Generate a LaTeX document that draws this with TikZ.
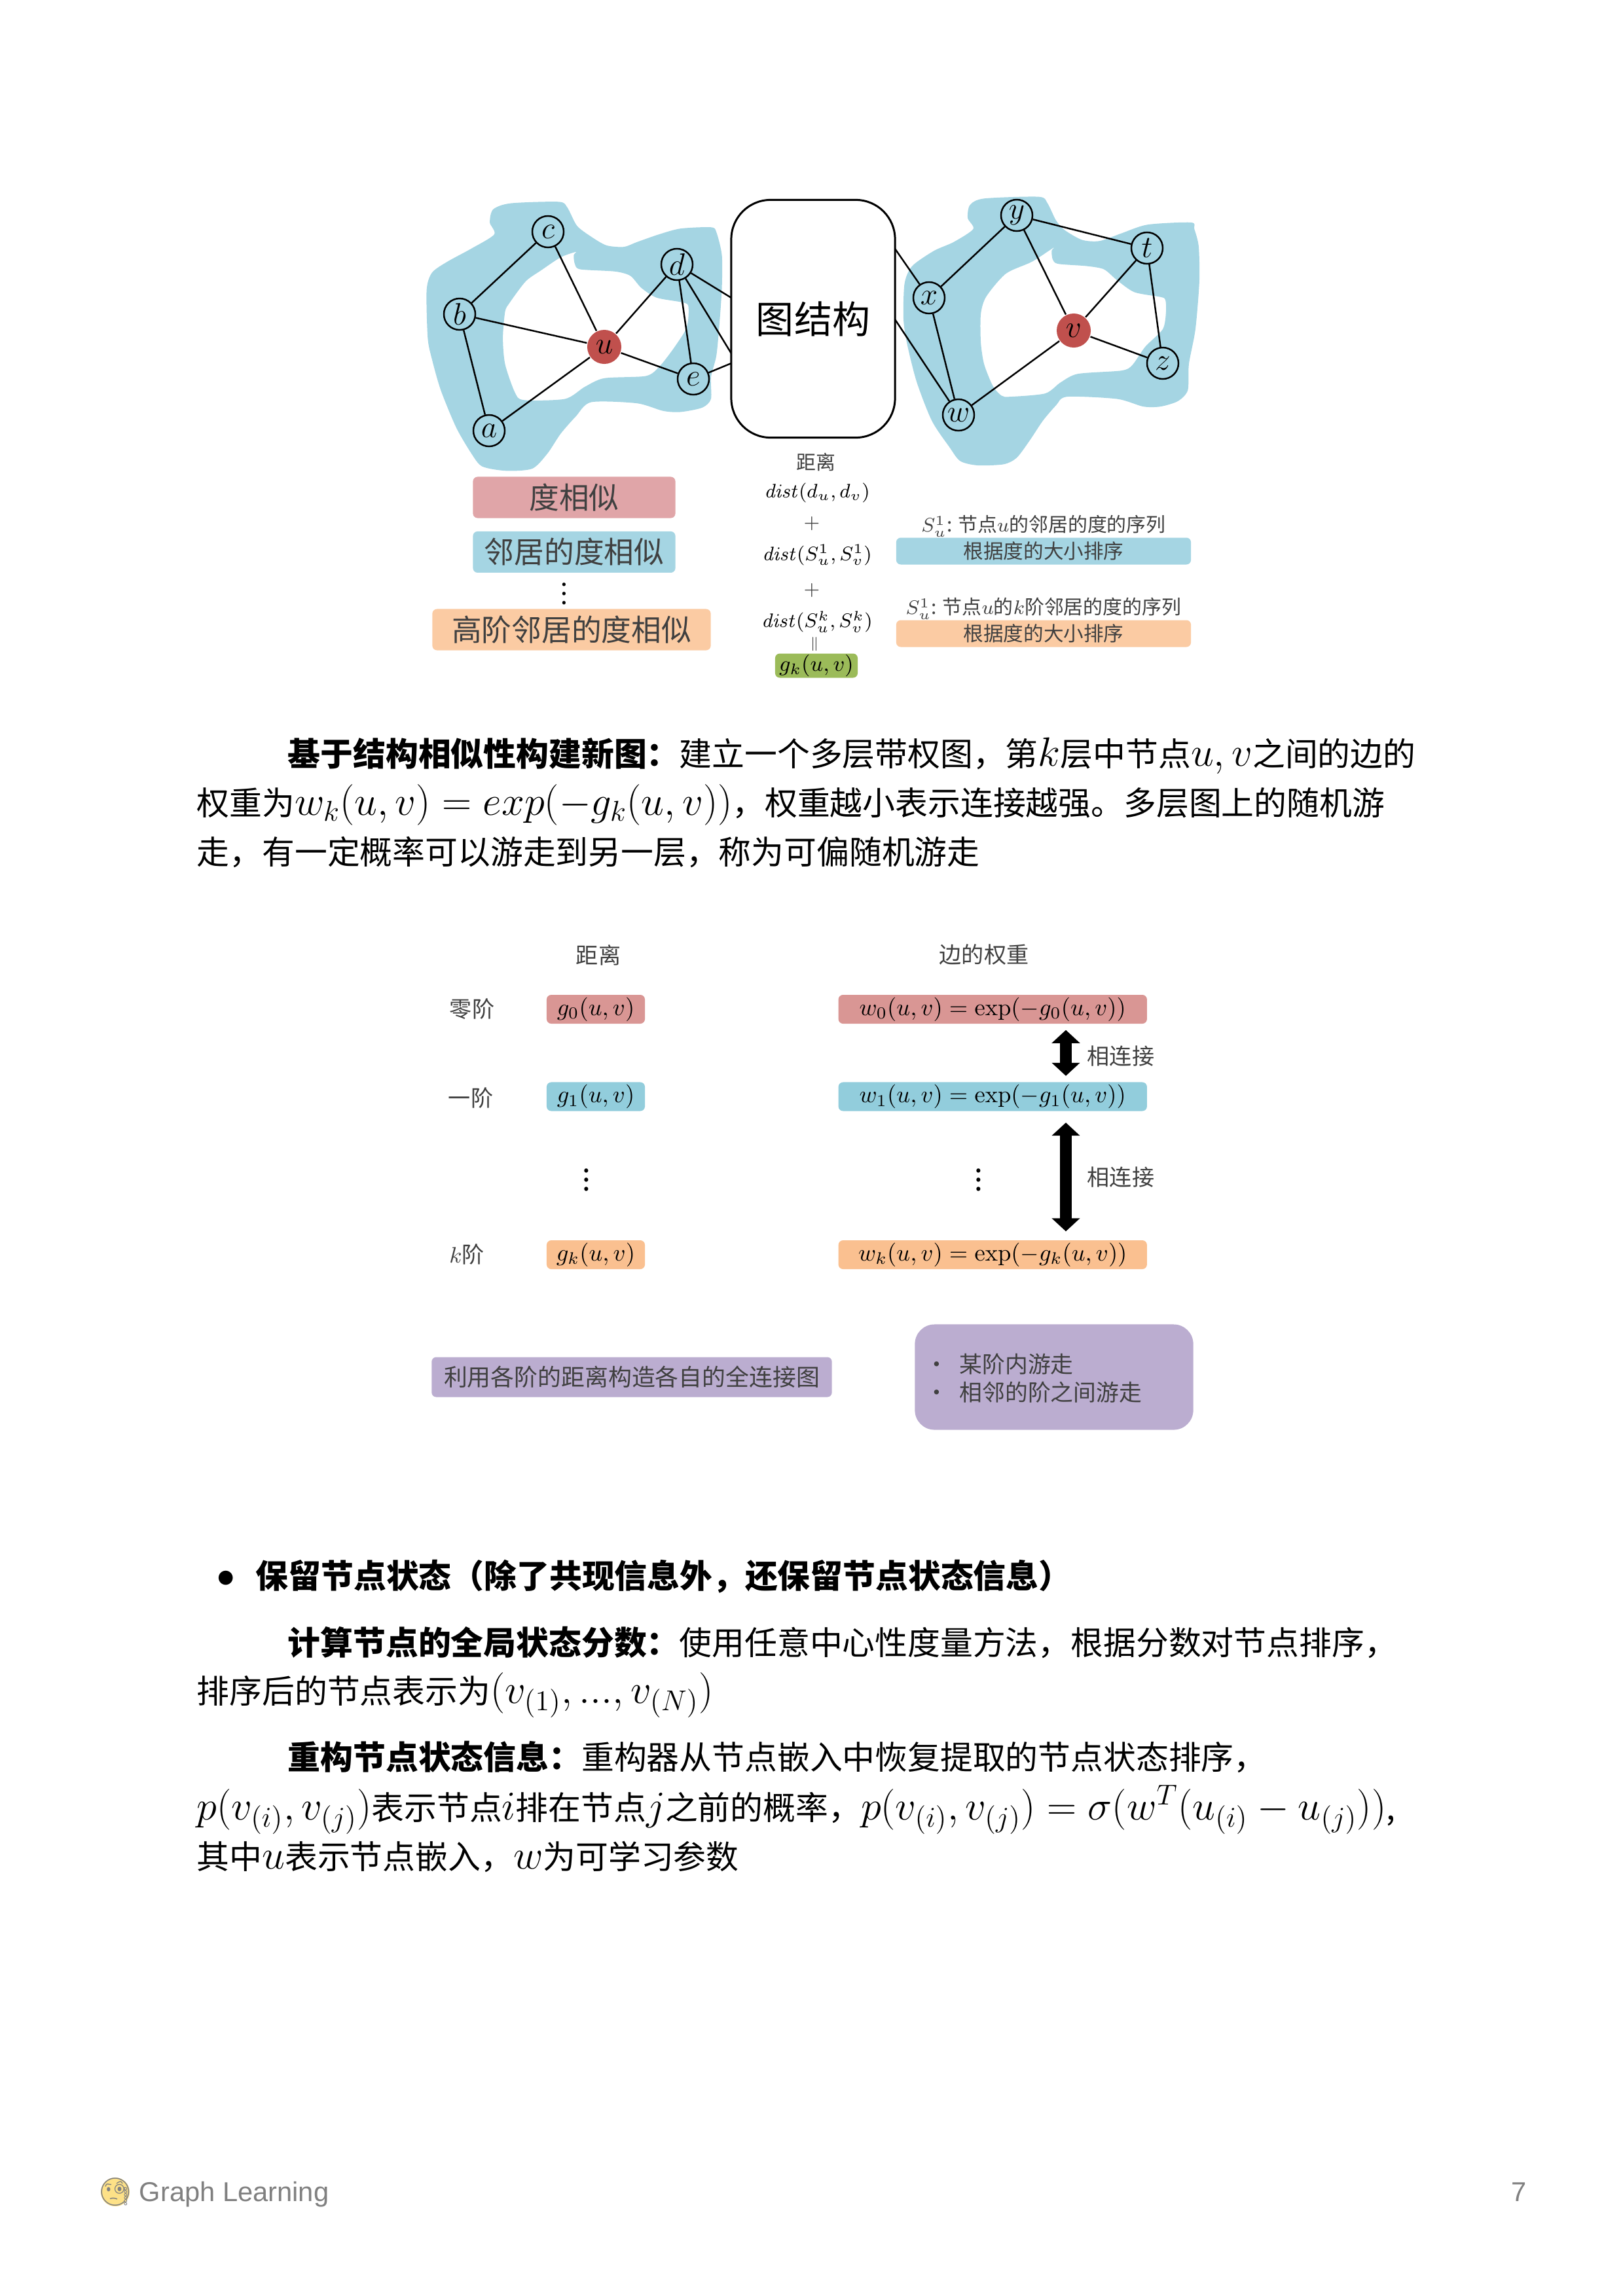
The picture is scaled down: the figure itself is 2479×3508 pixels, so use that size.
\documentclass[tikz,border=0pt]{standalone}
\usepackage{fix-cm}
\usepackage{amsmath,amssymb}
\usepackage[no-math]{fontspec}
\setmainfont{Noto Sans CJK SC}
\newfontfamily\footfont{Liberation Sans}
\newfontfamily\emojifont{Noto Emoji}
\usetikzlibrary{arrows.meta,shapes,positioning,calc}

\definecolor{blobblue}{HTML}{A5D5E3}
\definecolor{tagpink}{HTML}{E0A5A8}
\definecolor{tagblue}{HTML}{A5D5E3}
\definecolor{tagorange}{HTML}{FBCBA3}
\definecolor{taggreen}{HTML}{9BBB59}
\definecolor{rowpink}{HTML}{D99694}
\definecolor{rowblue}{HTML}{92CDDC}
\definecolor{roworange}{HTML}{FAC090}
\definecolor{tagpurple}{HTML}{BBADD0}
\definecolor{nodered}{HTML}{C0504D}
\definecolor{labelgray}{HTML}{404040}

% formulas in the running text are set larger than the Chinese
\newcommand{\mth}[1]{{\fontsize{17.8}{17.8}\selectfont$#1$}}

\begin{document}
\begin{tikzpicture}[
    x=0.01cm,y=-0.01cm,
    gnode/.style={circle,draw,line width=0.7pt,inner sep=0pt,minimum size=0.48cm,font=\fontsize{13.5}{15}\selectfont},
    rednode/.style={gnode,draw=none,fill=nodered,minimum size=0.52cm},
    edge/.style={line width=0.7pt},
    tag/.style={rectangle,rounded corners=2pt,inner sep=0pt,align=center,text=labelgray},
    bigtag/.style={tag,minimum width=3.09cm,minimum height=0.63cm,font=\fontsize{13}{15}\selectfont},
    bartag/.style={tag,minimum width=4.50cm,minimum height=0.41cm,font=\fontsize{8.7}{10}\selectfont},
    rowg/.style={tag,text=black,minimum width=1.50cm,minimum height=0.44cm,font=\fontsize{10.4}{13}\selectfont},
    roww/.style={tag,text=black,minimum width=4.71cm,minimum height=0.44cm,font=\fontsize{10.4}{13}\selectfont},
    txt/.style={inner sep=0pt,text=labelgray,font=\fontsize{9.7}{12}\selectfont},
    small/.style={inner sep=0pt,text=labelgray,font=\fontsize{8.5}{10}\selectfont},
    bodyline/.style={anchor=base west,inner sep=0pt,font=\fontsize{14.17}{17}\selectfont},
    dblarrow/.style={line width=0.18cm,{Triangle[length=0.2cm,width=0.42cm]}-{Triangle[length=0.2cm,width=0.42cm]}}
]
    \useasboundingbox (0,0) rectangle (2479,3508);

    % blue areas behind the two graphs
    \begin{scope}[shift={(640,290)},x=0.003333cm,y=-0.003333cm]
        \fill[blobblue,even odd rule]
            plot[smooth cycle,tension=0.45] coordinates {(340,90)(420,62)(640,55)(680,80)(725,165)(790,215)(860,255)(940,262)(1000,240)(1100,205)(1200,178)(1340,172)(1365,195)(1390,300)(1390,450)(1380,600)(1365,760)(1340,860)(1340,960)(1300,1000)(1200,1020)(1120,1015)(1000,980)(790,975)(720,1040)(650,1120)(590,1210)(520,1280)(400,1290)(290,1270)(240,1210)(170,1090)(100,920)(60,780)(40,680)(35,460)(60,380)(130,330)(240,270)(345,205)(325,150)}
            plot[smooth cycle,tension=0.45] coordinates {(720,285)(650,310)(560,370)(490,420)(415,520)(395,560)(385,680)(395,800)(440,930)(480,965)(670,960)(760,905)(850,865)(1040,855)(1100,815)(1160,740)(1220,650)(1235,600)(1235,530)(1200,515)(1090,495)(1020,450)(970,395)(900,375)(740,365)(715,340)(710,300)};
    \end{scope}
    \begin{scope}[shift={(1360,290)},x=0.003333cm,y=-0.003333cm]
        \fill[blobblue,even odd rule]
            plot[smooth cycle,tension=0.45] coordinates {(365,70)(430,40)(680,32)(720,60)(760,140)(800,185)(880,230)(960,235)(1060,200)(1180,160)(1380,150)(1395,180)(1415,260)(1418,420)(1400,640)(1370,800)(1365,920)(1320,970)(1240,995)(1160,995)(1040,960)(810,950)(760,990)(700,1060)(640,1150)(580,1230)(520,1260)(400,1265)(320,1245)(270,1180)(190,1060)(120,880)(75,700)(60,590)(65,430)(100,350)(200,280)(290,240)(380,180)(355,130)}
            plot[smooth cycle,tension=0.45] coordinates {(750,265)(650,330)(530,385)(440,490)(415,570)(415,700)(430,800)(470,900)(510,945)(550,950)(710,935)(780,885)(860,845)(1060,830)(1110,805)(1170,720)(1250,640)(1265,560)(1262,505)(1240,492)(1120,470)(1040,415)(980,365)(900,350)(770,340)(745,320)(740,280)};
    \end{scope}

    % the two graphs and the box between them
    \node[gnode] (c) at (837,354) {$c$};
    \node[gnode] (b) at (702,480) {$b$};
    \node[gnode] (a) at (747,658) {$a$};
    \node[rednode] (u) at (923,530) {$u$};
    \node[gnode] (d) at (1034,404) {$d$};
    \node[gnode] (e) at (1059,579) {$e$};
    \node[gnode] (y) at (1553,329) {$y$};
    \node[gnode] (x) at (1419,455) {$x$};
    \node[gnode] (w) at (1464,634) {$w$};
    \node[rednode] (v) at (1640,505) {$v$};
    \node[gnode] (t) at (1752,379) {$t$};
    \node[gnode] (z) at (1776,555) {$z$};
    \node[draw,line width=0.85pt,rounded corners=0.6cm,minimum width=2.50cm,minimum height=3.63cm,inner sep=0pt,font=\fontsize{16.5}{19}\selectfont] (graphbox) at (1242,487) {图结构};
    \coordinate (boxd) at (1117,455);
    \coordinate (boxdd) at (1117,540);
    \coordinate (boxe) at (1117,555);
    \coordinate (boxx) at (1367,380);
    \coordinate (boxw) at (1367,488);

    \draw[edge] (a) -- (b);
    \draw[edge] (b) -- (c);
    \draw[edge] (b) -- (u);
    \draw[edge] (c) -- (u);
    \draw[edge] (a) -- (u);
    \draw[edge] (d) -- (u);
    \draw[edge] (u) -- (e);
    \draw[edge] (d) -- (e);
    \draw[edge] (d) -- (boxd);
    \draw[edge] (d) -- (boxdd);
    \draw[edge] (e) -- (boxe);
    \draw[edge] (x) -- (y);
    \draw[edge] (x) -- (w);
    \draw[edge] (y) -- (v);
    \draw[edge] (y) -- (t);
    \draw[edge] (v) -- (t);
    \draw[edge] (v) -- (w);
    \draw[edge] (v) -- (z);
    \draw[edge] (t) -- (z);
    \draw[edge] (boxx) -- (x);
    \draw[edge] (boxw) -- (w);

    % labels below the graphs
    \node[bigtag,fill=tagpink] (degree) at (877,760) {度相似};
    \node[bigtag,fill=tagblue,below=0.19cm of degree] (neighbor) {邻居的度相似};
    \node[inner sep=0pt,font=\fontsize{11}{13}\selectfont] (updots) at (862,897) {$\vdots$};
    \node[bigtag,fill=tagorange,minimum width=4.25cm] (highorder) at (873,962) {高阶邻居的度相似};

    \node[small] (upd) at (1246,706) {距离};
    \node[small,text=black] (dist0) at (1248,753) {$\mathit{dist}(d_u,d_v)$};
    \node[small] (plus0) at (1240,800) {$+$};
    \node[small,text=black] (dist1) at (1248,848) {$\mathit{dist}(S_u^1,S_v^1)$};
    \node[small] (plus1) at (1240,902) {$+$};
    \node[small,text=black] (distk) at (1248,950) {$\mathit{dist}(S_u^k,S_v^k)$};
    \node[inner sep=0pt,text=labelgray,font=\fontsize{6}{7}\selectfont] (eqbar) at (1244,984) {$\|$};
    \node[tag,text=black,fill=taggreen,minimum width=1.26cm,minimum height=0.37cm,font=\fontsize{9.5}{11}\selectfont] (gk) at (1247,1017) {$g_k(u,v)$};

    \node[bartag,fill=tagblue] (sortone) at (1594,842) {根据度的大小排序};
    \node[small,above=0cm of sortone] (seqone) {$S_u^1$: 节点$u$的邻居的度的序列};
    \node[bartag,fill=tagorange] (sortk) at (1594,968) {根据度的大小排序};
    \node[small,above=0cm of sortk] (seqk) {$S_u^1$: 节点$u$的$k$阶邻居的度的序列};

    % text of the page
    \node[bodyline] (parta) at (439,1170) {\textbf{基于结构相似性构建新图：}建立一个多层带权图，第\mth{k}层中节点\mth{u,v}之间的边的};
    \node[bodyline] (partb) at (300,1245) {权重为\mth{w_k(u,v)=exp(-g_k(u,v))}，权重越小表示连接越强。多层图上的随机游};
    \node[bodyline] (partc) at (300,1320) {走，有一定概率可以游走到另一层，称为可偏随机游走};

    % table of distances and weights
    \node[rowg,fill=rowpink] (g0) at (910,1542) {$g_0(u,v)$};
    \node[rowg,fill=rowblue,below=0.88cm of g0] (g1) {$g_1(u,v)$};
    \node[rowg,fill=roworange,below=1.96cm of g1] (gn) {$g_k(u,v)$};
    \node[roww,fill=rowpink,right=2.94cm of g0] (w0) {$w_0(u,v)=\exp(-g_0(u,v))$};
    \node[roww,fill=rowblue,right=2.94cm of g1] (w1) {$w_1(u,v)=\exp(-g_1(u,v))$};
    \node[roww,fill=roworange,right=2.94cm of gn] (wn) {$w_k(u,v)=\exp(-g_k(u,v))$};
    \node[txt] (ord0) at (721,1542) {零阶};
    \node[txt] (ord1) at (719,1677) {一阶};
    \node[txt] (ordk) at (713,1916) {$k$阶};
    \node[txt] (distlabel) at (914,1459) {距离};
    \node[txt] (weightlabel) at (1503,1459) {边的权重};
    \node[inner sep=0pt,font=\fontsize{13}{15}\selectfont] (gdots) at (896,1792) {$\vdots$};
    \node[inner sep=0pt,font=\fontsize{13}{15}\selectfont] (wdots) at (1495,1792) {$\vdots$};
    \node[txt] (linka) at (1712,1614) {相连接};
    \node[txt] (linkb) at (1712,1799) {相连接};
    \coordinate (linkx) at (1628,0);
    \draw[dblarrow,shorten <=0.09cm,shorten >=0.09cm] (linkx |- w0.south) -- (linkx |- w1.north);
    \draw[dblarrow,shorten <=0.17cm,shorten >=0.13cm] (linkx |- w1.south) -- (linkx |- wn.north);

    \node[tag,fill=tagpurple,minimum width=6.11cm,minimum height=0.61cm,font=\fontsize{10.2}{12}\selectfont] (fullgraph) at (965,2104) {利用各阶的距离构造各自的全连接图};
    \node[tag,fill=tagpurple,rounded corners=0.3cm,minimum width=4.25cm,minimum height=1.61cm] (walkbox) at (1610,2104) {};
    \node[txt,anchor=west,align=left,font=\fontsize{9.9}{12.2}\selectfont] (walktext) at (1413,2106) {\makebox[0.52cm][l]{•}某阶内游走\\\makebox[0.52cm][l]{•}相邻的阶之间游走};

    \node[bodyline,font=\fontsize{22}{24}\selectfont\bfseries] (bulletmark) at (306,2440) {•};
    \node[bodyline,font=\fontsize{14.17}{17}\selectfont\bfseries] (keep) at (390,2426) {保留节点状态（除了共现信息外，还保留节点状态信息）};
    \node[bodyline] (scorea) at (439,2528) {\textbf{计算节点的全局状态分数：}使用任意中心性度量方法，根据分数对节点排序，};
    \node[bodyline] (scoreb) at (300,2602) {排序后的节点表示为\mth{(v_{(1)},...,v_{(N)})}};
    \node[bodyline] (recona) at (439,2703) {\textbf{重构节点状态信息：}重构器从节点嵌入中恢复提取的节点状态排序，};
    \node[bodyline] (reconb) at (300,2780) {\mth{p(v_{(i)},v_{(j)})}表示节点\mth{i}排在节点\mth{j}之前的概率，\mth{p(v_{(i)},v_{(j)})=\sigma(w^T(u_{(i)}-u_{(j)}))},};
    \node[bodyline] (reconc) at (300,2855) {其中\mth{u}表示节点嵌入，\mth{w}为可学习参数};

    % footer
    \node[circle,fill=yellow!55!orange!45,inner sep=0pt,minimum size=0.44cm] (face) at (176,3349) {};
    \node[inner sep=0pt,text=gray,font=\emojifont\fontsize{12}{14}\selectfont] (facemark) at (face) {🧐};
    \node[anchor=base west,inner sep=0pt,text=gray,font=\footfont\fontsize{11.85}{14}\selectfont] (foot) at (212,3363) {Graph Learning};
    \node[anchor=base east,inner sep=0pt,text=gray,font=\footfont\fontsize{11.85}{14}\selectfont] (pagenum) at (2332,3363) {7};
\end{tikzpicture}
\end{document}
